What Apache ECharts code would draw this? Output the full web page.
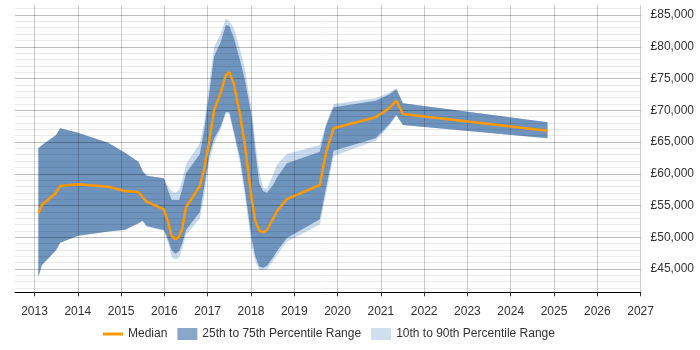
<!DOCTYPE html>
<html>
<head>
<meta charset="utf-8">
<script src="https://cdn.jsdelivr.net/npm/echarts@6/dist/echarts.min.js"></script>
<style>html,body{margin:0;padding:0;background:#fff}#c{width:700px;height:350px}</style>
</head>
<body>
<div id="c"></div>
<script>
// Time points (decimal years)
const years = [2013.09, 2013.17, 2013.5, 2013.59, 2014.0, 2014.7, 2015.09, 2015.4, 2015.5, 2015.59,
  2015.99, 2016.09, 2016.17, 2016.26, 2016.34, 2016.41, 2016.5, 2016.82, 2016.92, 2017.04,
  2017.15, 2017.3, 2017.42, 2017.5, 2017.6, 2017.75, 2017.86, 2018.02, 2018.1, 2018.19,
  2018.28, 2018.37, 2018.52, 2018.6, 2018.83, 2019.59, 2019.74, 2019.91, 2020.88, 2021.19,
  2021.36, 2021.51, 2024.85];
const median = [53770, 55080, 57020, 58070, 58350, 57960, 57280, 57130, 56300, 55600,
  54400, 52300, 50200, 49670, 50080, 51250, 54720, 58070, 60800, 65310,
  70040, 72700, 75550, 75970, 74300, 69300, 64500, 55870, 52600, 51050,
  50780, 51140, 53000, 54100, 56020, 58230, 63470, 67160, 68890, 70300,
  71510, 69410, 66780];
const p75 = [64010, 64500, 66100, 67160, 66450, 64900, 63300, 61900, 60400, 59690,
  59280, 57300, 55870, 55870, 55870, 57500, 60070, 63110, 66900, 72800,
  78500, 80700, 83430, 83270, 81500, 77800, 74760, 68900, 63500, 58600,
  57300, 57000, 58300, 59400, 61650, 63470, 67680, 70460, 71510, 72500,
  73300, 71100, 68100];
const p25 = [43790, 45630, 47990, 49140, 50250, 50900, 51200, 52200, 52610, 51770,
  51140, 49570, 47900, 47400, 47800, 49000, 51140, 53980, 57960, 63000,
  65600, 67410, 69770, 69670, 66800, 62400, 57500, 49700, 47000, 45400,
  45200, 45500, 46940, 47800, 49900, 52830, 57960, 63630, 65580, 67800,
  69250, 67680, 65580];
const p90 = [64010, 64500, 66100, 67160, 66450, 64900, 63300, 61900, 60400, 59690,
  59280, 57960, 57300, 57000, 57500, 58900, 61500, 64800, 68000, 74500,
  80000, 82000, 84480, 84000, 83000, 79500, 76500, 70000, 65000, 60500,
  57800, 57600, 60000, 61400, 63110, 64540, 67950, 70980, 71880, 72800,
  73460, 71100, 68100];
const p10 = [43600, 45500, 47900, 49100, 50200, 50850, 51150, 52150, 52550, 51700,
  51000, 49000, 46900, 46500, 46900, 48200, 50350, 52980, 56500, 62000,
  64800, 67000, 69500, 69400, 66300, 61500, 56500, 48500, 46200, 44900,
  44800, 45000, 46300, 47200, 49300, 52000, 57000, 62800, 65210, 67500,
  69200, 67680, 65580];
const seriesNames = ['Median', '25th to 75th Percentile Range', '10th to 90th Percentile Range'];

function fmtMoney(v) {
  return '£' + String(Math.round(v)).replace(/\B(?=(\d{3})+(?!\d))/g, ',');
}

function band(name, lo, hi, color, z) {
  return {
    type: 'custom', name: name, z: z, silent: true,
    xAxisIndex: 0, yAxisIndex: 0,
    data: years.map((x, i) => [x, lo[i], hi[i]]),
    encode: { x: 0, y: [1, 2] },
    itemStyle: { color: color },
    renderItem: function (params, api) {
      if (params.dataIndex !== 0) return null;
      const pts = [];
      for (let i = 0; i < years.length; i++) pts.push(api.coord([years[i], hi[i]]));
      for (let i = years.length - 1; i >= 0; i--) pts.push(api.coord([years[i], lo[i]]));
      return { type: 'polygon', shape: { points: pts }, style: { fill: color } };
    }
  };
}

const YMIN = 41330, YMAX = 86500;
const font = 'Liberation Sans, Arial, sans-serif';
const chart = echarts.init(document.getElementById('c'), null, { renderer: 'canvas' });
chart.setOption({
  animation: false,
  textStyle: { fontFamily: font },
  grid: { left: 15, right: 59.4, top: 5.5, bottom: 57.7, containLabel: false },
  xAxis: {
    type: 'value', min: 2012.55, max: 2027, splitNumber: 14, z: 1.6,
    axisLine: { show: true, lineStyle: { color: '#000', width: 1 } },
    axisTick: { show: true, length: 4, lineStyle: { color: '#333' } },
    axisLabel: { color: '#333', fontSize: 12, fontFamily: font, margin: 13, showMinLabel: false,
      formatter: v => String(Math.round(v)) },
    splitLine: { show: true, showMinLine: false, lineStyle: { color: 'rgba(0,0,0,0.2)', width: 1 } }
  },
  yAxis: [
    {
      type: 'value', position: 'right', min: YMIN, max: YMAX, splitNumber: 9, z: 1.4,
      axisLine: { show: false }, axisTick: { show: false },
      axisLabel: { color: '#333', fontSize: 12, fontFamily: font, margin: 10,
        showMinLabel: false, showMaxLabel: false, formatter: fmtMoney },
      splitLine: { show: true, showMinLine: false, showMaxLine: false, lineStyle: { color: 'rgba(0,0,0,0.2)' } }
    },
    {
      type: 'value', position: 'right', min: YMIN, max: YMAX, splitNumber: 45, z: 1.2,
      axisLine: { show: false }, axisTick: { show: false }, axisLabel: { show: false },
      splitLine: { show: true, showMinLine: false, showMaxLine: false, lineStyle: { color: 'rgba(0,0,0,0.08)' } }
    }
  ],
  legend: {
    left: 98, top: 323, itemWidth: 20, itemHeight: 12, itemGap: 10,
    textStyle: { color: '#333', fontSize: 12, fontFamily: font },
    selectedMode: false,
    data: [
      { name: seriesNames[0], icon: 'path://M0,0L20,0L20,3L0,3Z', itemStyle: { color: '#ff9900' } },
      { name: seriesNames[1], icon: 'rect', itemStyle: { color: '#89a7c9' } },
      { name: seriesNames[2], icon: 'rect', itemStyle: { color: '#cfdff0' } }
    ]
  },
  series: [
    band(seriesNames[2], p10, p90, '#c6d9ed', 1),
    band(seriesNames[1], p25, p75, '#6e93bd', 1.05),
    {
      type: 'line', name: seriesNames[0], z: 3, symbol: 'none', silent: true,
      xAxisIndex: 0, yAxisIndex: 0,
      data: years.map((x, i) => [x, median[i]]),
      lineStyle: { color: '#ff9900', width: 2.5 },
      itemStyle: { color: '#ff9900' }
    }
  ]
});
</script>
</body>
</html>
